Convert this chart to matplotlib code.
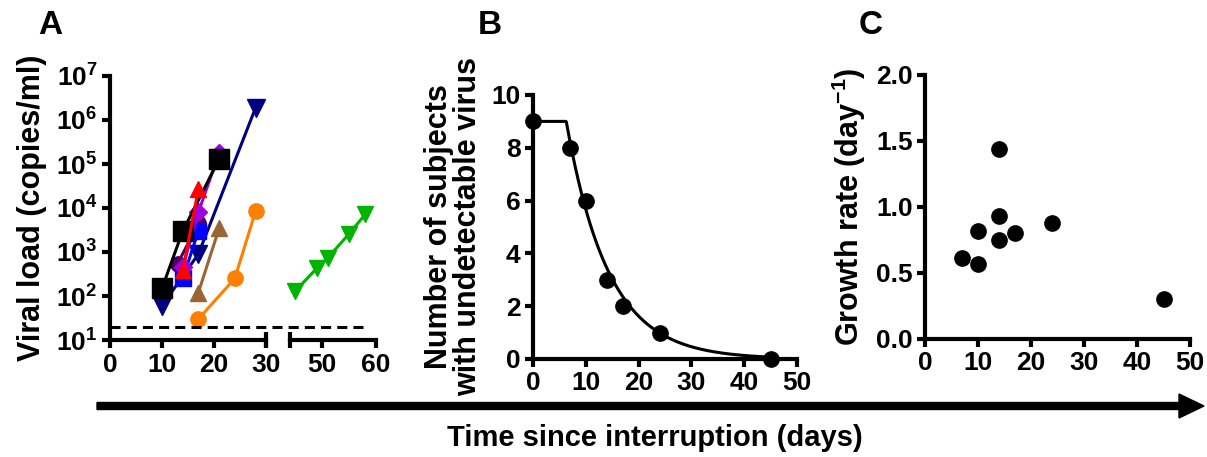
import matplotlib
matplotlib.use('Agg')
import matplotlib.pyplot as plt
import numpy as np
from matplotlib.patches import FancyArrow
from matplotlib.ticker import FixedLocator, FixedFormatter, FormatStrFormatter, LogLocator, NullFormatter

plt.rcParams['font.family'] = ['Liberation Sans', 'DejaVu Sans']
plt.rcParams['font.weight'] = 'bold'
plt.rcParams['mathtext.fontset'] = 'custom'
plt.rcParams['mathtext.bf'] = 'Liberation Sans:bold'
plt.rcParams['mathtext.rm'] = 'Liberation Sans:bold'
plt.rcParams['mathtext.default'] = 'bf'

################ panel A : viral load per subject ################
# days, copies/ml
black_x = [10, 14, 21];       black_y = [150, 3000, 130000]
navy_x = [10, 17, 28];        navy_y = [60, 900, 1.9e6]
dpurple_x = [13, 17];         dpurple_y = [540, 4500]
purple_x = [14, 17, 21];      purple_y = [450, 8000, 180000]
red_x = [14, 17];             red_y = [380, 27000]
blue_x = [14, 17];            blue_y = [250, 3000]
brown_x = [17, 21];           brown_y = [120, 3500]
orange_x = [17, 24, 28];      orange_y = [30, 250, 8500]
green_x = [45, 49, 51, 55, 58]
green_y = [130, 430, 730, 2600, 7200]
detect_limit = 20

################ panel B : subjects still undetectable ################
b_days = [0, 7, 10, 14, 17, 24, 45]
b_count = [9, 8, 6, 3, 2, 1, 0]
# fitted curve parameters (delay, decay rate)
fit_n0 = 9
fit_delay = 6.3
fit_rate = 0.125

################ panel C : growth rate ################
c_days = [7, 10, 10, 14, 14, 14, 17, 24, 45]
c_rate = [0.61, 0.57, 0.815, 1.44, 0.935, 0.75, 0.80, 0.88, 0.305]

W, H = 1207, 457
fig = plt.figure(figsize=(W / 100, H / 100), dpi=100)

def px_axes(l, r, t, b):
    return fig.add_axes([l / W, 1 - b / H, (r - l) / W, (b - t) / H])

LW = 3.0
TICK = 19
LAB = 22

def style(ax):
    for s in ['top', 'right']:
        ax.spines[s].set_visible(False)
    for s in ['left', 'bottom']:
        ax.spines[s].set_linewidth(LW)
    ax.tick_params(which='major', direction='out', length=6, width=LW, labelsize=TICK, pad=3)
    ax.patch.set_visible(False)

ax1 = px_axes(110, 266, 76, 340)
ax2 = px_axes(290, 376, 76, 340)
axB = px_axes(533, 797, 95, 359)
axC = px_axes(925, 1190, 75, 339)

for ax in [ax1, ax2]:
    style(ax)
    ax.set_yscale('log')
    ax.set_ylim(10, 1e7)
ax1.set_xlim(0, 30)
ax2.set_xlim(44, 60)
ax1.set_xticks([0, 10, 20, 30])
ax2.set_xticks([50, 60])
ax2.spines['left'].set_visible(False)
ax2.tick_params(axis='y', which='both', left=False, labelleft=False)

ax1.yaxis.set_major_locator(FixedLocator([10 ** k for k in range(1, 8)]))
ax1.yaxis.set_major_formatter(FixedFormatter([r'$10^{%d}$' % k for k in range(1, 8)]))
ax1.yaxis.set_minor_locator(LogLocator(base=10, subs=np.arange(2, 10)))
ax1.yaxis.set_minor_formatter(NullFormatter())
ax1.tick_params(axis='y', which='minor', direction='out', length=4, width=2)

lw = 2.2
ax1.plot(orange_x, orange_y, '-o', color='#FF8000', lw=lw, ms=11)
ax1.plot(brown_x, brown_y, '-^', color='#996633', lw=lw, ms=12)
ax1.plot(navy_x, navy_y, '-v', color='#000080', lw=lw, ms=13)
ax1.plot(dpurple_x, dpurple_y, '-o', color='#4B0060', lw=lw, ms=11)
ax1.plot(blue_x, blue_y, '-s', color='#0000FF', lw=lw, ms=11)
ax1.plot(purple_x, purple_y, '-D', color='#A000E0', lw=lw, ms=9)
ax1.plot(black_x, black_y, '-s', color='black', lw=lw, ms=15)
ax1.plot(red_x, red_y, '-^', color='#FF0000', lw=lw, ms=11)
ax2.plot(green_x, green_y, '-v', color='#00B400', lw=lw, ms=11, clip_on=False)

# detection limit, drawn across the axis break
ax1.plot([0, 49.6], [detect_limit, detect_limit], color='black', lw=2.2,
         dashes=(3.3, 2), clip_on=False, zorder=5)

# break end caps
ax1.plot([1, 1], [-0.03, 0.03], transform=ax1.transAxes, color='black', lw=LW,
         clip_on=False, solid_capstyle='butt')
ax2.plot([0, 0], [-0.03, 0.03], transform=ax2.transAxes, color='black', lw=LW,
         clip_on=False, solid_capstyle='butt')

ax1.set_ylabel('Viral load (copies/ml)', fontsize=LAB, fontweight='bold', labelpad=6)

################ panel B ################
style(axB)
t = np.linspace(0, 45, 400)
fit = np.where(t < fit_delay, fit_n0, fit_n0 * np.exp(-fit_rate * (t - fit_delay)))
axB.plot(t, fit, color='black', lw=2.2)
axB.plot(b_days, b_count, 'o', color='black', ms=11, clip_on=False, zorder=5)
axB.set_xlim(0, 50)
axB.set_ylim(0, 10)
axB.set_xticks(range(0, 51, 10))
axB.set_yticks(range(0, 11, 2))
axB.set_ylabel('Number of subjects\nwith undetectable virus', fontsize=LAB,
               fontweight='bold', linespacing=0.95, labelpad=6)

################ panel C ################
style(axC)
axC.plot(c_days, c_rate, 'o', color='black', ms=11, clip_on=False)
axC.set_xlim(0, 50)
axC.set_ylim(0, 2)
axC.set_xticks(range(0, 51, 10))
axC.set_yticks([0, 0.5, 1.0, 1.5, 2.0])
axC.yaxis.set_major_formatter(FormatStrFormatter('%.1f'))
axC.set_ylabel('Growth rate (day$^{-1}$)', fontsize=LAB, fontweight='bold', labelpad=6)

################ panel letters, time arrow ################
for letter, x in [('A', 50), ('B', 490), ('C', 871)]:
    fig.text(x / W, 1 - 26 / H, letter, fontsize=24, fontweight='bold', ha='center', va='center')

arrow = FancyArrow(0.97, (H - 406) / 100, (W - 97 - 3) / 100, 0, width=0.07,
                   head_width=0.24, head_length=0.25, length_includes_head=True,
                   color='black', transform=fig.dpi_scale_trans)
fig.patches.append(arrow)
fig.text(655 / W, 1 - 438 / H, 'Time since interruption (days)', fontsize=21,
         fontweight='bold', ha='center', va='center')

fig.savefig('out.png', dpi=100)
